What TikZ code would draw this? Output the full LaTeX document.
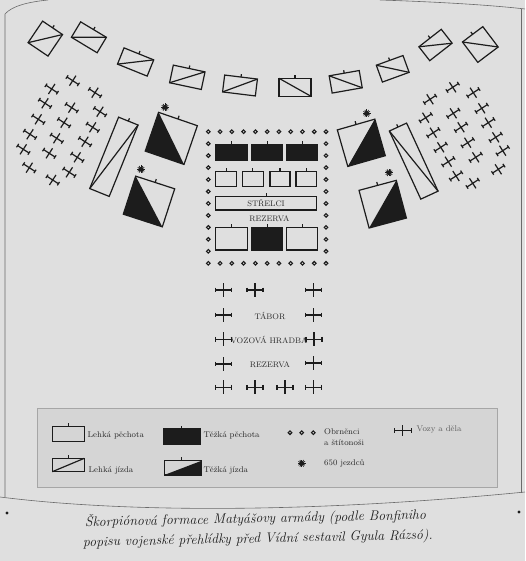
\documentclass[tikz,border=0pt]{standalone}
\usepackage{fontspec}
\definecolor{paper}{HTML}{DFDFDF}
\definecolor{legfill}{HTML}{D5D5D5}
\definecolor{legline}{HTML}{A6A6A6}
\definecolor{inkc}{HTML}{1C1C1C}
\definecolor{txtc}{HTML}{2A2A2A}
\definecolor{framec}{HTML}{6A6A6A}
\tikzset{
  unit/.style={draw=inkc, line width=1.2pt},
  cartst/.style={draw=inkc, line width=1.2pt},
  ring/.style={draw=inkc, line width=1.1pt},
  lab/.style={text=txtc, font=\fontsize{8}{9}\selectfont, inner sep=0pt},
  legtxt/.style={text=txtc, font=\fontsize{8.3}{9}\selectfont, anchor=west, inner sep=0pt},
  captxt/.style={text=inkc, font=\fontsize{13.8}{15}\selectfont\itshape, anchor=base west, inner sep=0pt, rotate=1.2},
  framest/.style={draw=framec, line width=0.6pt}
}
% light cavalry: x y w h rot side(0=left,1=right)
\newcommand\LCav[6]{%
  \begin{scope}[shift={(#1,#2)},rotate=#5]
    \draw[unit] (-#3/2,-#4/2) rectangle (#3/2,#4/2);
    \draw[unit] (0,-#4/2) -- (0,-#4/2-3);
    \ifnum#6=0 \draw[unit] (-#3/2,#4/2) -- (#3/2,-#4/2);
    \else \draw[unit] (-#3/2,-#4/2) -- (#3/2,#4/2);\fi
  \end{scope}}
% heavy cavalry
\newcommand\HCav[6]{%
  \begin{scope}[shift={(#1,#2)},rotate=#5]
    \ifnum#6=0 \fill[inkc] (-#3/2,-#4/2) -- (-#3/2,#4/2) -- (#3/2,#4/2) -- cycle;
    \else \fill[inkc] (#3/2,-#4/2) -- (#3/2,#4/2) -- (-#3/2,#4/2) -- cycle;\fi
    \draw[unit] (-#3/2,-#4/2) rectangle (#3/2,#4/2);
    \draw[unit] (0,-#4/2) -- (0,-#4/2-3.5);
  \end{scope}}
% 650 riders marker
\newcommand\Jezdci[2]{%
  \fill[inkc] (#1,#2) circle (2.4);
  \foreach \a in {0,30,...,330} \draw[inkc, line width=0.7pt] (#1,#2) -- ++(\a:3.8);}
% infantry box: x1 y1 x2 y2 filled(0/1)
\newcommand\Inf[5]{%
  \ifnum#5=1 \fill[inkc] (#1,#2) rectangle (#3,#4);\fi
  \draw[unit] (#1,#2) rectangle (#3,#4);
  \draw[unit] ({(#1+#3)/2},#2) -- ({(#1+#3)/2},#2-3.5);}
\begin{document}
\begin{tikzpicture}[x=1pt,y=-1pt]
\useasboundingbox (0,0) rectangle (525,561);
\fill[paper] (0,0) rectangle (525,561);
% page frame
\draw[framest] (5,497) -- (5,14) .. controls (12,6) and (28,2) .. (48,0);
\draw[framest] (380,0) .. controls (440,2) and (490,5) .. (525,9);
\draw[framest] (521,9) -- (521,493);
\draw[framest] (0,497) .. controls (120,512) and (300,514) .. (525,492);
\fill[inkc] (7,513) circle (1.6);
\fill[inkc] (519,512) circle (1.6);
% legend box
\filldraw[fill=legfill, draw=legline, line width=0.6pt] (37,408) rectangle (497,487);

% top arc of light cavalry
\LCav{45.3}{38.6}{24}{26}{-34}{0}
\LCav{88.9}{37.3}{30}{18}{-31}{0}
\LCav{135.6}{62}{32}{17.5}{-22}{0}
\LCav{187.3}{77.3}{32.4}{18}{-12}{0}
\LCav{240}{85.5}{33}{17}{-7}{0}
\LCav{295}{87.3}{32}{18}{0}{1}
\LCav{345.7}{81.8}{30.5}{17.5}{10}{1}
\LCav{392.7}{68.8}{28.4}{17.9}{20}{1}
\LCav{435.5}{45}{28.4}{17.6}{38}{1}
\LCav{480.3}{44.5}{25.5}{25.5}{37}{1}

% long light cavalry units
\LCav{113.9}{156.8}{21}{77}{-22}{0}
\LCav{413.7}{161.1}{19}{75}{24.8}{1}

% heavy cavalry with 650 riders
\HCav{171.3}{138.4}{41}{41}{-19}{0}
\HCav{149}{201.5}{41}{40}{-18}{0}
\HCav{361.3}{142.8}{39}{38}{16}{1}
\HCav{382.7}{204.2}{38.6}{39}{15}{1}
\Jezdci{165}{107.3}
\Jezdci{141}{169.3}
\Jezdci{366.7}{113.3}
\Jezdci{389}{172.7}

% left flank carts
\foreach \p in {(72.7,80.7),(51.7,89),(95,92.7),(45,103.3),(71.7,107.7),(100,111.7),
  (38.3,119.3),(64,122.7),(92.7,127.3),(30,134.3),(56.7,138.3),(85,141.7),
  (23.3,149.3),(49.3,153.3),(77.3,157.3),(29.3,167.7),(69.3,172.3),(52.7,180)}{
  \path \p coordinate (c);
  \begin{scope}[shift={(c)},rotate=-33,scale=0.85]
    \draw[cartst,line width=1.2pt] (-8,0)--(8,0) (-8,-2.4)--(-8,2.4) (8,-2.4)--(8,2.4) (0,-7)--(0,7);
  \end{scope}}
% right flank carts
\foreach \p in {(452.7,87.3),(430,99.3),(473.3,92.7),(425.7,117.7),(453.3,113.3),(481.7,108.3),
  (433.3,132.7),(461,127.3),(488.3,122.7),(440.7,147.3),(467.7,142.7),(495.7,137.3),
  (448.3,161.7),(475.7,157.3),(502.7,150.7),(456,176),(472.7,183.3),(498.3,169.3)}{
  \path \p coordinate (c);
  \begin{scope}[shift={(c)},rotate=33,scale=0.85]
    \draw[cartst,line width=1.2pt] (-8,0)--(8,0) (-8,-2.4)--(-8,2.4) (8,-2.4)--(8,2.4) (0,-7)--(0,7);
  \end{scope}}

% central square: armoured men ring
\foreach \i in {0,...,10}{
  \draw[ring] ({208.3+11.77*\i},131.7) circle (1.8);
  \draw[ring] ({208.3+11.77*\i},263.3) circle (1.8);}
\foreach \j in {1,...,10}{
  \draw[ring] (208.3,{131.7+11.96*\j}) circle (1.8);
  \draw[ring] (326,{131.7+11.96*\j}) circle (1.8);}
% heavy infantry
\Inf{215.7}{145}{247.3}{160.7}{1}
\Inf{251.7}{145}{282.7}{160.7}{1}
\Inf{286.7}{145}{317.7}{160.7}{1}
% light infantry
\Inf{215.7}{171.7}{236.7}{186.7}{0}
\Inf{242.3}{171.7}{263.3}{186.7}{0}
\Inf{270}{171.7}{290}{186.7}{0}
\Inf{296}{171.7}{316.7}{186.7}{0}
% archers
\Inf{215.7}{196.7}{316.7}{210}{0}
\node[lab] (strelci) at (266,203.6) {STŘELCI};
\node[lab] (rez1) at (269.5,219) {REZERVA};
% reserve
\Inf{215.7}{227.3}{247.3}{250}{0}
\Inf{251.7}{227.3}{282.7}{250}{1}
\Inf{286.7}{227.3}{317.7}{250}{0}

% wagon fort columns
\foreach \p in {(223.3,290),(255,290),(313.3,290),
  (223.3,315),(313.3,315),(223.3,339.3),(314,339.3),(223.3,364),(313.3,363),
  (223.3,387.3),(255,387.3),(285,387.3),(313.3,387.3)}{
  \path \p coordinate (c);
  \begin{scope}[shift={(c)}]
    \draw[cartst] (-8,0)--(8,0) (-8,-2.4)--(-8,2.4) (8,-2.4)--(8,2.4) (0,-7)--(0,7);
  \end{scope}}
\node[lab] (tabor) at (270,315.5) {TÁBOR};
\node[lab] (hradba) at (269,339.6) {VOZOVÁ HRADBA};
\node[lab] (rez2) at (270,365) {REZERVA};

% legend
\Inf{52.3}{426.7}{84.3}{441.7}{0}
\node[legtxt] (l1) at (87.5,435) {Lehká pěchota};
\Inf{163.3}{429}{200}{444}{1}
\node[legtxt] (l2) at (203.5,435) {Těžká pěchota};
\foreach \x in {290,301.7,313.3} \draw[ring] (\x,432.7) circle (1.8);
\node[legtxt] (l3) at (324,431.5) {Obrněnci};
\node[legtxt] (l3b) at (324,443) {a štítonoši};
\begin{scope}[shift={(402.7,430.7)},scale=0.95]
  \draw[cartst] (-9,0)--(9,0) (-9,-2.4)--(-9,2.4) (9,-2.4)--(9,2.4) (0,-5.5)--(0,6);
\end{scope}
\node[legtxt, text=txtc!75] (l4) at (416.5,429.5) {Vozy a děla};
\draw[unit] (52.3,458.3) rectangle (84.3,471.7);
\draw[unit] (52.3,471.7) -- (84.3,458.3);
\draw[unit] (68.3,458.3) -- (68.3,455);
\node[legtxt] (l5) at (88.5,470) {Lehká jízda};
\fill[inkc] (164.3,475) -- (201.7,475) -- (201.7,460.7) -- cycle;
\draw[unit] (164.3,460.7) rectangle (201.7,475);
\draw[unit] (181.5,460.7) -- (181.5,457.2);
\node[legtxt] (l6) at (203.5,470) {Těžká jízda};
\Jezdci{301.7}{463.3}
\node[legtxt] (l7) at (324,463.3) {650 jezdců};

% caption
\node[captxt] (cap1) at (85,526.5) {Škorpiónová formace Matyášovy armády (podle Bonfiniho};
\node[captxt] (cap2) at (83,546.5) {popisu vojenské přehlídky před Vídní sestavil Gyula Rázsó).};
\end{tikzpicture}
\end{document}
